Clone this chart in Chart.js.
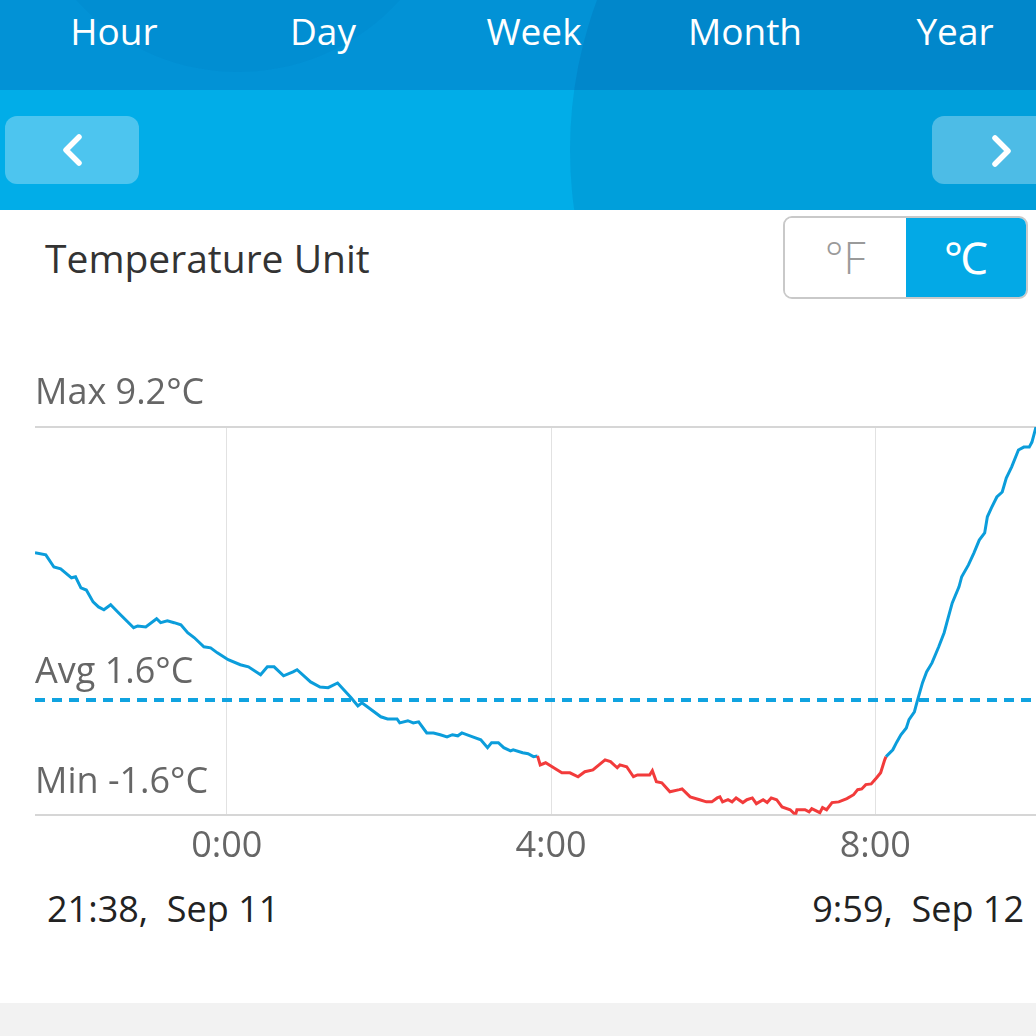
<!DOCTYPE html>
<html lang="en">
<head>
<meta charset="UTF-8">
<title>Temperature — Day</title>
<script src="https://cdn.jsdelivr.net/npm/chart.js@4.4.1/dist/chart.umd.min.js"></script>
<style>
  * { box-sizing: border-box; margin: 0; padding: 0; }
  html, body { width: 1036px; height: 1036px; overflow: hidden; background: #fff; }
  body { font-family: 'Open Sans', Roboto, sans-serif; position: relative; }
  .top { position: absolute; left: 0; top: 0; width: 1036px; height: 210px; overflow: hidden; }
  .band1 { position: absolute; left: 0; top: 0; width: 100%; height: 90px; background: #0292d6; }
  .band2 { position: absolute; left: 0; top: 90px; width: 100%; height: 120px; background: #01ade8; }
  .blob1 { position: absolute; left: 20px; top: -364px; width: 436px; height: 436px; border-radius: 50%; background: rgba(0, 60, 140, 0.04); }
  .blob2 { position: absolute; left: 570px; top: -280px; width: 860px; height: 860px; border-radius: 50%; background: rgba(0, 40, 110, 0.1); }
  .tab { position: absolute; top: 7px; width: 180px; text-align: center; color: #fff; font-size: 37px; line-height: 48px; }
  .nav { position: absolute; top: 116px; width: 134px; height: 68px; border-radius: 12px; background: rgba(255,255,255,0.3); }
  .nav svg { position: absolute; left: 0; top: 0; }
  .unit-label { position: absolute; left: 45px; top: 231px; font-size: 39px; color: #333; }
  .toggle { position: absolute; left: 783px; top: 216px; width: 245px; height: 83px; border: 2px solid #c9c9c9; border-radius: 9px; overflow: hidden; display: flex; }
  .toggle div { flex: 1; text-align: center; font-size: 44px; line-height: 79px; font-weight: 300; }
  .toggle .off { color: #9a9a9a; background: #fff; }
  .toggle .on { color: #fff; background: #03a9e6; }
  .chart-box { position: absolute; left: 0; top: 340px; width: 1036px; height: 538px; }
  .range { position: absolute; top: 884px; font-size: 36px; color: #222; white-space: pre; }
  .foot { position: absolute; left: 0; top: 1003px; width: 100%; height: 33px; background: #f2f2f2; }
</style>
</head>
<body>
  <div class="top">
    <div class="band1"></div>
    <div class="band2"></div>
    <div class="blob1"></div>
    <div class="blob2"></div>
    <div class="tab" style="left:24px">Hour</div>
    <div class="tab" style="left:233px">Day</div>
    <div class="tab" style="left:444px">Week</div>
    <div class="tab" style="left:655px">Month</div>
    <div class="tab" style="left:865px">Year</div>
    <div class="nav" style="left:5px"><svg width="134" height="68"><polyline points="74,21 61,34 74,47" fill="none" stroke="#fff" stroke-width="5.5" stroke-linecap="round" stroke-linejoin="round"/></svg></div>
    <div class="nav" style="left:932px"><svg width="134" height="68"><polyline points="63,22 76,35 63,48" fill="none" stroke="#fff" stroke-width="5.5" stroke-linecap="round" stroke-linejoin="round"/></svg></div>
  </div>

  <div class="unit-label">Temperature Unit</div>
  <div class="toggle"><div class="off">°F</div><div class="on">℃</div></div>

  <div class="chart-box"><canvas id="chart"></canvas></div>

  <div class="range" style="left:47px">21:38,  Sep 11</div>
  <div class="range" style="right:12px">9:59,  Sep 12</div>
  <div class="foot"></div>

<script>
  // minutes relative to midnight (Sep 12); start 21:38, end 9:59
  const startMin = -142;
  const endMin = 599;
  const tickMins = [0, 240, 480];

  const statMax = 9.2;
  const statAvg = 1.6;
  const statMin = -1.6;

  const minutes = [
    -142, -134, -128, -123, -115, -112, -108, -104, -99, -95, -91, -86, -80, -69, -66, -60,
    -52, -49, -44, -39, -34, -29, -24, -17, -12, -7, 1, 10, 16, 25, 30, 35, 42, 49, 52, 62,
    69, 75, 82, 92, 97, 100, 104, 114, 119, 126, 128, 134, 138, 142, 148, 153, 158, 163, 167,
    171, 174, 182, 188, 193, 196, 201, 205, 210, 212, 219, 223, 227, 230, 232, 236, 242, 248,
    254, 260, 265, 271, 280, 284, 289, 291, 296, 301, 304, 313, 315, 318, 322, 328, 335, 337,
    343, 350, 355, 359, 363, 365, 367, 371, 374, 377, 382, 385, 389, 392, 397, 400, 403, 407,
    411, 417, 421, 422, 428, 431, 433, 439, 441, 444, 448, 453, 459, 464, 467, 470, 473, 477,
    481, 484, 487, 488, 493, 496, 499, 503, 505, 509, 511, 515, 518, 522, 527, 531, 533, 537,
    542, 544, 549, 553, 557, 561, 563, 566, 570, 574, 577, 581, 586, 590, 594, 596, 599
  ];
  const temps = [
    5.70, 5.64, 5.30, 5.25, 5.00, 5.03, 4.72, 4.66, 4.33, 4.19, 4.11, 4.25, 4.02, 3.61, 3.66, 3.63,
    3.86, 3.75, 3.80, 3.75, 3.69, 3.47, 3.33, 3.08, 3.05, 2.91, 2.72, 2.58, 2.52, 2.30, 2.52, 2.52, 2.27, 2.38, 2.44, 2.10,
    1.96, 1.94, 2.07, 1.66, 1.43, 1.52, 1.41, 1.13, 1.07, 1.07, 0.96, 1.02, 0.96, 0.99, 0.68, 0.68, 0.63, 0.57, 0.63,
    0.60, 0.68, 0.57, 0.49, 0.27, 0.41, 0.41, 0.27, 0.18, 0.21, 0.13, 0.10, 0.02, 0.04, -0.21, -0.15, -0.29, -0.43,
    -0.43, -0.54, -0.40, -0.35, -0.07, -0.12, -0.29, -0.21, -0.26, -0.54, -0.49, -0.49, -0.37, -0.68, -0.71, -0.96, -0.90, -0.88,
    -1.10, -1.18, -1.24, -1.24, -1.13, -1.10, -1.24, -1.18, -1.24, -1.13, -1.26, -1.18, -1.13, -1.29, -1.18, -1.26, -1.13, -1.18,
    -1.38, -1.46, -1.60, -1.46, -1.46, -1.52, -1.43, -1.54, -1.40, -1.46, -1.26, -1.24, -1.15, -1.04, -0.90, -0.88, -0.76, -0.74,
    -0.57, -0.43, -0.07, 0.02, 0.21, 0.43, 0.63, 0.82, 1.05, 1.27, 1.55, 2.08, 2.38, 2.63, 3.08, 3.47, 3.75, 4.30,
    4.75, 5.03, 5.36, 5.69, 6.05, 6.25, 6.70, 6.95, 7.25, 7.39, 7.78, 8.09, 8.56, 8.64, 8.64, 8.78, 9.20
  ];

  const BLUE = '#0b9ddb';
  const RED = '#f23b3b';
  const FONT = "'Open Sans', Roboto, sans-serif";

  function fmtTime(m) {
    const h = Math.floor(((m % 1440) + 1440) % 1440 / 60);
    const mm = ((m % 60) + 60) % 60;
    return h + ':' + String(mm).padStart(2, '0');
  }

  // Max / Avg / Min captions above their lines
  const statLabels = {
    id: 'statLabels',
    afterDraw(chart) {
      const c = chart.ctx, y = chart.scales.y, left = chart.chartArea.left;
      c.save();
      c.fillStyle = '#666';
      c.font = '36px ' + FONT;
      c.textBaseline = 'alphabetic';
      c.fillText('Max ' + statMax.toFixed(1) + '°C', left, y.getPixelForValue(statMax) - 23);
      c.fillText('Avg ' + statAvg.toFixed(1) + '°C', left, y.getPixelForValue(statAvg) - 17);
      c.fillText('Min ' + statMin.toFixed(1) + '°C', left, y.getPixelForValue(statMin) - 22);
      c.restore();
    }
  };

  new Chart(document.getElementById('chart'), {
    type: 'line',
    data: {
      datasets: [
        {
          label: 'Temperature',
          data: minutes.map((m, i) => ({ x: m, y: temps[i] })),
          borderColor: BLUE,
          borderWidth: 3,
          pointRadius: 0,
          tension: 0,
          segment: {
            borderColor: ctx => (ctx.p0.parsed.y + ctx.p1.parsed.y) / 2 < 0 ? RED : BLUE,
          },
          order: 1,
        },
        {
          label: 'Avg',
          data: [{ x: startMin, y: statAvg }, { x: endMin, y: statAvg }],
          borderColor: '#10a3e0',
          borderWidth: 4,
          borderDash: [10, 7],
          pointRadius: 0,
          order: 2,
        },
      ],
    },
    options: {
      responsive: true, maintainAspectRatio: false, animation: false,
      layout: { padding: { left: 35, right: 0, top: 87, bottom: 0 } },
      plugins: { legend: { display: false }, tooltip: { enabled: false } },
      scales: {
        x: {
          type: 'linear', min: startMin, max: endMin,
          afterBuildTicks: axis => { axis.ticks = tickMins.map(v => ({ value: v })); },
          grid: { color: '#e2e2e2', lineWidth: 1, drawTicks: false },
          border: { display: false },
          ticks: {
            padding: 10, color: '#666', maxRotation: 0,
            font: { size: 36, family: FONT },
            callback: v => fmtTime(v),
          },
        },
        y: {
          min: statMin, max: statMax,
          afterBuildTicks: axis => { axis.ticks = [{ value: statMin }, { value: statMax }]; },
          grid: { color: '#d6d6d6', lineWidth: 2, drawTicks: false },
          border: { display: false },
          ticks: { display: false },
        },
      },
    },
    plugins: [statLabels],
  });
</script>
</body>
</html>
